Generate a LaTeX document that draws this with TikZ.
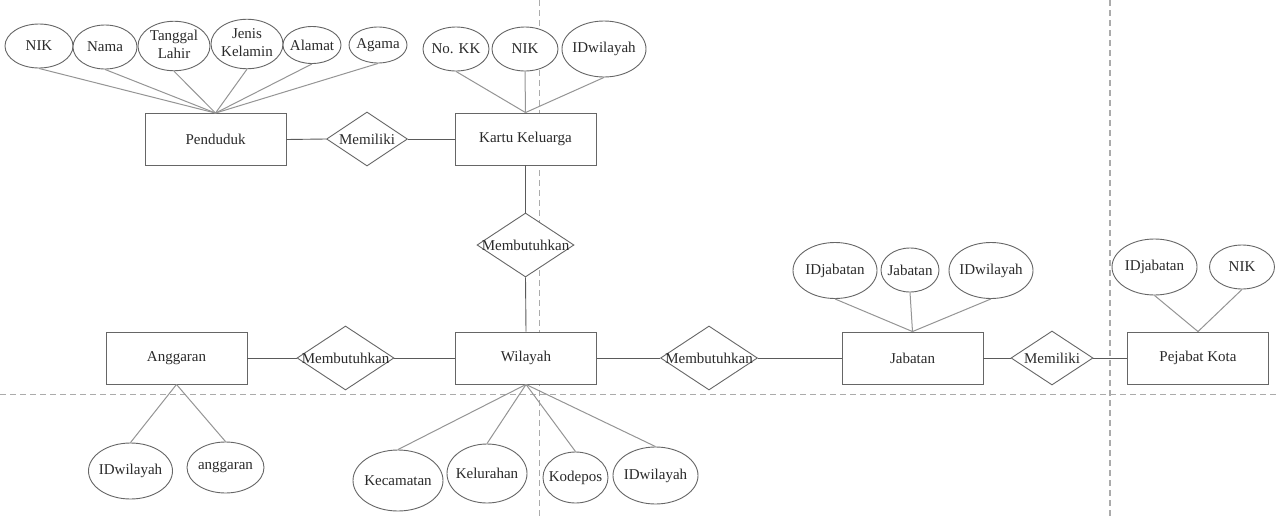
\documentclass[tikz,border=0pt]{standalone}
\usepackage{fontspec}
\setmainfont{Liberation Serif}
\usetikzlibrary{shapes.geometric}
\definecolor{bordercol}{HTML}{666666}
\definecolor{attrcol}{HTML}{959595}
\definecolor{linkcol}{HTML}{5A5A5A}
\definecolor{txtcol}{HTML}{2A2A2A}
\definecolor{dashcol}{HTML}{ABABAB}
\newcommand{\zb}[1]{\makebox[0pt]{#1}}
\newcommand{\zbb}[2]{\makebox[0pt]{\begin{tabular}{@{}c@{}}#1\\[1pt]#2\end{tabular}}}
\begin{document}
\begin{tikzpicture}[x=1pt,y=-1pt,
  every node/.style={font=\fontsize{15}{17}\selectfont, text=txtcol},
  ent/.style={draw=bordercol, fill=white, line width=0.9pt, rectangle, minimum width=141pt, minimum height=52pt, inner sep=0pt},
  rel/.style={draw=bordercol, fill=white, line width=0.9pt, diamond, inner sep=0pt, aspect=1.5},
  attr/.style={draw=bordercol, fill=white, line width=0.9pt, ellipse, inner sep=0pt},
  alink/.style={draw=attrcol, line width=1pt},
  rlink/.style={draw=linkcol, line width=0.9pt},
  sep/.style={draw=dashcol, line width=1.3pt, dash pattern=on 6pt off 4pt}
]
\useasboundingbox (0,0) rectangle (1280,517);
\fill[white] (0,0) rectangle (1280,517);
% separators
\coordinate (v1t) at (539.5,0); \coordinate (v1b) at (539.5,517);
\coordinate (v2t) at (1110,0); \coordinate (v2b) at (1110,517);
\coordinate (hl) at (0,394.5); \coordinate (hr) at (1280,394.5);
\draw[sep] (v1t) -- (v1b);
\draw[sep] (v2t) -- (v2b);
\draw[sep] (hl) -- (hr);

% entities
\node[ent] (pend) at (215.5,139.5) {Penduduk};
\node[ent] (kk) at (525.5,139) {Kartu Keluarga};
\node[ent] (ang) at (176.5,358) {Anggaran};
\node[ent] (wil) at (526,358) {Wilayah};
\node[ent] (jab) at (912.5,358) {Jabatan};
\node[ent] (pej) at (1198,358) {Pejabat Kota};

% relationships
\node[rel, minimum width=81pt, minimum height=54pt] (mem1) at (367,139) {\zb{Memiliki}};
\node[rel, minimum width=97pt, minimum height=64pt] (mbt1) at (525.5,245) {\zb{Membutuhkan}};
\node[rel, minimum width=97pt, minimum height=64pt] (mbt2) at (345.5,358) {\zb{Membutuhkan}};
\node[rel, minimum width=97pt, minimum height=64pt] (mbt3) at (709,358) {\zb{Membutuhkan}};
\node[rel, minimum width=82pt, minimum height=54pt] (mem2) at (1052,358) {\zb{Memiliki}};

% attributes of Penduduk
\node[attr, minimum width=68pt, minimum height=44pt] (p1) at (39,46) {\zb{NIK}};
\node[attr, minimum width=64pt, minimum height=44pt] (p2) at (105,47) {\zb{Nama}};
\node[attr, minimum width=72pt, minimum height=48pt] (p3) at (174,46) {\zbb{Tanggal}{Lahir}};
\node[attr, minimum width=72pt, minimum height=46pt] (p4) at (247,44) {\zbb{Jenis}{Kelamin}};
\node[attr, minimum width=58pt, minimum height=37pt] (p5) at (312,45) {\zb{Alamat}};
\node[attr, minimum width=58pt, minimum height=36pt] (p6) at (378,45) {\zb{Agama}};

% attributes of Kartu Keluarga
\node[attr, minimum width=66pt, minimum height=44pt] (k1) at (456,49) {\zb{No. KK}};
\node[attr, minimum width=66pt, minimum height=44pt] (k2) at (525,49) {\zb{NIK}};
\node[attr, minimum width=84pt, minimum height=56pt] (k3) at (604,49) {\zb{IDwilayah}};

% attributes of Jabatan
\node[attr, minimum width=84pt, minimum height=56pt] (j1) at (835,270.5) {\zb{IDjabatan}};
\node[attr, minimum width=58pt, minimum height=44pt] (j2) at (910,270) {\zb{Jabatan}};
\node[attr, minimum width=84pt, minimum height=56pt] (j3) at (991,270.5) {\zb{IDwilayah}};

% attributes of Pejabat Kota
\node[attr, minimum width=85pt, minimum height=56pt] (q1) at (1154.5,267) {\zb{IDjabatan}};
\node[attr, minimum width=65pt, minimum height=44pt] (q2) at (1242,267) {\zb{NIK}};

% attributes of Anggaran
\node[attr, minimum width=84pt, minimum height=56pt] (a1) at (130.5,471) {\zb{IDwilayah}};
\node[attr, minimum width=77pt, minimum height=51pt] (a2) at (225.5,467.5) {\zb{anggaran}};

% attributes of Wilayah
\node[attr, minimum width=90pt, minimum height=61pt] (w1) at (398,480.5) {\zb{Kecamatan}};
\node[attr, minimum width=80pt, minimum height=59pt] (w2) at (487,473.5) {\zb{Kelurahan}};
\node[attr, minimum width=65pt, minimum height=51pt] (w3) at (575.5,477.5) {\zb{Kodepos}};
\node[attr, minimum width=85pt, minimum height=57pt] (w4) at (655.5,475.5) {\zb{IDwilayah}};

% attribute links
\foreach \a in {p1,p2,p3,p4,p5,p6} \draw[alink] (\a.south) -- (pend.north);
\foreach \a in {k1,k2,k3} \draw[alink] (\a.south) -- (kk.north);
\foreach \a in {j1,j2,j3} \draw[alink] (\a.south) -- (jab.north);
\foreach \a in {q1,q2} \draw[alink] (\a.south) -- (pej.north);
\foreach \a in {a1,a2} \draw[alink] (\a.north) -- (ang.south);
\foreach \a in {w1,w2,w3,w4} \draw[alink] (\a.north) -- (wil.south);

% relationship links
\draw[rlink] (pend.east) -- (mem1.west);
\draw[rlink] (mem1.east) -- (kk.west);
\draw[rlink] (kk.south) -- (mbt1.north);
\draw[rlink] (mbt1.south) -- (wil.north);
\draw[rlink] (ang.east) -- (mbt2.west);
\draw[rlink] (mbt2.east) -- (wil.west);
\draw[rlink] (wil.east) -- (mbt3.west);
\draw[rlink] (mbt3.east) -- (jab.west);
\draw[rlink] (jab.east) -- (mem2.west);
\draw[rlink] (mem2.east) -- (pej.west);
\end{tikzpicture}
\end{document}
